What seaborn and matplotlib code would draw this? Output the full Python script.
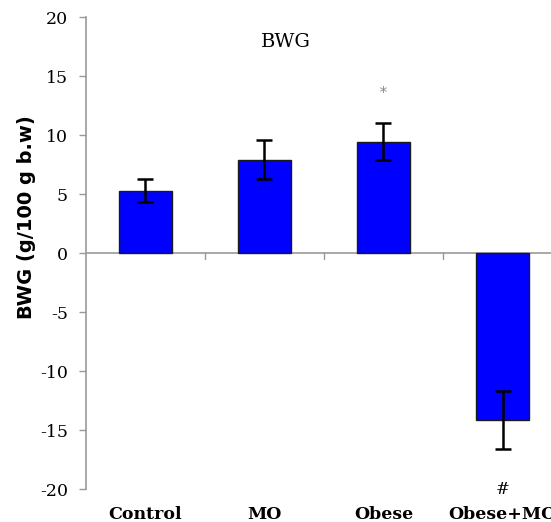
import numpy as np
import pandas as pd
import seaborn as sns
from matplotlib import pyplot as plt

groups = ['Control', 'MO', 'Obese', 'Obese+MO']
bwg = [5.3, 7.9, 9.45, -14.15]
sem = [0.97, 1.65, 1.6, 2.5]
marks = ['', '', '*', '#']
mark_y = [None, None, 13.6, -20.0]
yticks = [-20, -15, -10, -5, 0, 5, 10, 15, 20]

df = pd.DataFrame({'group': groups, 'bwg': bwg, 'sem': sem})

sns.set_style('white')
plt.rcParams['font.family'] = ['DejaVu Serif']
plt.rcParams['text.color'] = 'black'

fig = plt.figure(figsize=(5.51, 5.22), dpi=100)
ax = fig.add_axes([0.156, 0.0632, 0.864, 0.904])

sns.barplot(data=df, x='group', y='bwg', color='#0000ff', saturation=1,
            width=0.44, edgecolor='#1a1a1a', linewidth=1.0, errorbar=None, ax=ax)
ax.errorbar(np.arange(len(groups)), df['bwg'], yerr=df['sem'], fmt='none',
            ecolor='black', elinewidth=1.8, capsize=5.5, capthick=1.8)

for i, (m, y) in enumerate(zip(marks, mark_y)):
    if m == '*':
        ax.text(i, y, m, ha='center', va='center', fontsize=10, color='#888888')
    elif m == '#':
        ax.text(i, y, m, ha='center', va='center', fontsize=12, color='black',
                clip_on=False)

ax.text(1.18, 17.9, 'BWG', ha='center', va='center', fontsize=14, color='black')

ax.set_xlim(-0.5, 3.5)
ax.set_ylim(-20, 20)
ax.set_yticks(yticks)
ax.set_yticklabels([str(t) for t in yticks], fontsize=12.5, color='black')

# category labels under the plot, boundary ticks on the zero line
ax.set_xticks(range(len(groups)))
ax.set_xticklabels(groups, fontsize=12.5, fontweight='bold', color='black')
ax.tick_params(axis='x', length=0, pad=12)
for b in [0.5, 1.5, 2.5]:
    ax.plot([b, b], [0, -0.5], color='#999999', lw=1)
ax.axhline(0, color='#999999', lw=1.2, zorder=0)
ax.tick_params(axis='y', direction='out', length=5, width=1, color='#999999',
               left=True, pad=8)

for s in ['top', 'right', 'bottom']:
    ax.spines[s].set_visible(False)
ax.spines['left'].set_color('#999999')
ax.spines['left'].set_linewidth(1.2)

ax.set_xlabel('')
ax.set_ylabel('BWG (g/100 g b.w)', fontsize=14, fontweight='bold',
              family='DejaVu Sans', color='black')
ax.yaxis.set_label_coords(-0.105, 0.576)

fig.savefig('out.png', dpi=100)
plt.close()
